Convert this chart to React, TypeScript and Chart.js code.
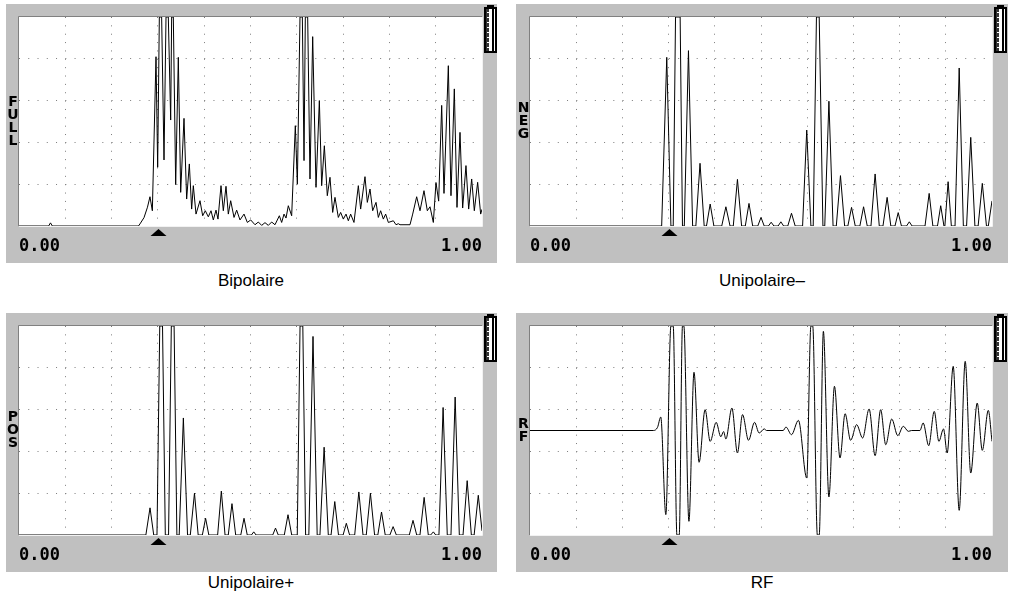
import React, { useEffect, useRef } from 'react';
import { Chart, registerables } from 'chart.js';

Chart.register(...registerables);

// ---------- data (x = fraction of the screen width 0..1, y = % of screen height) ----------
const X_TICK_STEP = 0.1;
const X_END_LABELS = ['0.00', '1.00'];
const GATE_MARKER_X = 0.3;

const fullTrace: [number, number][] = [
  [0, 0], [0.064, 0], [0.068, 1.5], [0.072, 0], [0.258, 0], [0.2613, 1], [0.27, 4], [0.2775, 9],
  [0.2829, 14], [0.288, 7.3], [0.2959, 81], [0.2995, 28.1], [0.3031, 100], [0.3081, 100], [0.3132, 31.6],
  [0.3175, 100], [0.3225, 100], [0.3276, 50.7], [0.3297, 100], [0.3333, 100], [0.3384, 19.8], [0.3441, 80.7],
  [0.3492, 16.1], [0.3564, 51.5], [0.3621, 12.9], [0.3679, 29.7], [0.3729, 8.1], [0.3765, 19.3], [0.3823, 5.7],
  [0.3909, 12.1], [0.3967, 4.9], [0.4024, 7.3], [0.4089, 4.4], [0.4147, 7.3], [0.4197, 2.9], [0.4255, 7.6],
  [0.4298, 3.3], [0.4363, 19.3], [0.4413, 7.3], [0.4471, 19.0], [0.4521, 5.7], [0.4572, 12.1], [0.4644, 4.1],
  [0.4701, 7.6], [0.4773, 2.9], [0.486, 5.7], [0.4932, 1.7], [0.5004, 2.9], [0.5097, 0.6], [0.5169, 1.9],
  [0.5241, 0.3], [0.5313, 1.6], [0.5385, 0.3], [0.5457, 1.9], [0.5529, 0.6], [0.5623, 4.9], [0.5673, 1.7],
  [0.5724, 5.7], [0.5767, 3.8], [0.5817, 9.7], [0.5889, 4.9], [0.5968, 48.0], [0.6012, 20.1], [0.6069, 100],
  [0.612, 100], [0.6156, 31.3], [0.6184, 100], [0.6235, 100], [0.6285, 22.5], [0.6343, 90.6], [0.6415, 18.5],
  [0.6487, 60.0], [0.6537, 19.3], [0.6595, 38.4], [0.6659, 14.5], [0.6717, 23.3], [0.6775, 6.5], [0.6825, 13.7],
  [0.6897, 4.1], [0.6947, 6.5], [0.7005, 3.3], [0.7063, 5.7], [0.7113, 2.5], [0.7163, 5.7], [0.7235, 1.7],
  [0.7329, 19.3], [0.7379, 8.1], [0.7473, 23.6], [0.7523, 11.3], [0.7581, 17.7], [0.7639, 7.3], [0.7711, 11.3],
  [0.7761, 4.1], [0.7811, 7.3], [0.7869, 3.3], [0.7919, 5.7], [0.7977, 1.7], [0.8085, 2.5], [0.8143, 0.6],
  [0.8193, 1.1], [0.8229, 0.6], [0.8445, 0.6], [0.8503, 5.7], [0.8589, 14.0], [0.8661, 7.3], [0.8747, 16.9],
  [0.8819, 7.3], [0.8877, 9.2], [0.8949, 1.7], [0.9006, 20.8], [0.9064, 11.9], [0.9129, 57.7], [0.9179, 15.6],
  [0.9273, 76.7], [0.933, 14.5], [0.9402, 65.6], [0.946, 8.9], [0.9525, 44.8], [0.9582, 8.6], [0.9654, 28.9],
  [0.9712, 8.1], [0.9777, 22.5], [0.9834, 7.3], [0.9906, 20.9], [0.9971, 5.7], [1.0, 8],
];

const negTrace: [number, number][] = [
  [0, 0], [0.285, 0], [0.296, 80.7], [0.305, 0], [0.31, 0], [0.315, 100], [0.325, 100], [0.33, 0], [0.334, 0],
  [0.343, 83.9], [0.352, 0], [0.359, 0], [0.368, 30], [0.377, 0], [0.382, 0], [0.39, 10.5], [0.398, 0],
  [0.415, 0], [0.424, 9.2], [0.433, 0], [0.44, 0], [0.449, 22.3], [0.458, 0], [0.466, 0], [0.474, 10.8],
  [0.482, 0], [0.493, 0], [0.5, 4.1], [0.507, 0], [0.516, 0], [0.522, 1.8], [0.528, 0], [0.537, 0],
  [0.543, 2.0], [0.549, 0], [0.558, 0], [0.566, 6.1], [0.574, 0], [0.59, 0], [0.599, 45.9], [0.608, 0],
  [0.613, 0], [0.62, 100], [0.626, 100], [0.634, 0], [0.638, 0], [0.647, 59.7], [0.656, 0], [0.663, 0],
  [0.672, 24.1], [0.681, 0], [0.688, 0], [0.696, 8.9], [0.704, 0], [0.714, 0], [0.722, 9.2], [0.73, 0],
  [0.738, 0], [0.747, 24.9], [0.756, 0], [0.764, 0], [0.773, 13.7], [0.781, 0], [0.79, 0], [0.797, 6.4],
  [0.804, 0], [0.815, 0], [0.821, 2.0], [0.827, 0], [0.855, 0], [0.864, 15.6], [0.872, 0], [0.882, 0],
  [0.889, 9.7], [0.896, 0], [0.898, 0], [0.905, 21.2], [0.912, 0], [0.92, 0], [0.929, 75.6], [0.938, 0],
  [0.945, 0], [0.954, 42.4], [0.963, 0], [0.97, 0], [0.979, 20.4], [0.988, 0], [0.992, 0], [1.0, 12],
];

const posTrace: [number, number][] = [
  [0, 0], [0.274, 0], [0.283, 13], [0.291, 0], [0.298, 0], [0.304, 100], [0.31, 100], [0.316, 0], [0.323, 0],
  [0.329, 100], [0.335, 100], [0.341, 0], [0.346, 0], [0.355, 56], [0.364, 0], [0.37, 0], [0.379, 20],
  [0.387, 0], [0.396, 0], [0.403, 8], [0.41, 0], [0.429, 0], [0.437, 21], [0.445, 0], [0.452, 0], [0.46, 15],
  [0.468, 0], [0.479, 0], [0.486, 8], [0.493, 0], [0.502, 0], [0.507, 1.5], [0.512, 0], [0.548, 0],
  [0.554, 3.3], [0.56, 0], [0.573, 0], [0.581, 9.7], [0.589, 0], [0.601, 0], [0.607, 100], [0.613, 100],
  [0.619, 0], [0.626, 0], [0.635, 95], [0.644, 0], [0.65, 0], [0.659, 42], [0.668, 0], [0.674, 0], [0.682, 16],
  [0.69, 0], [0.7, 0], [0.707, 5.6], [0.714, 0], [0.725, 0], [0.734, 20.6], [0.743, 0], [0.75, 0], [0.759, 20],
  [0.768, 0], [0.775, 0], [0.783, 11], [0.791, 0], [0.801, 0], [0.808, 4], [0.815, 0], [0.843, 0], [0.851, 7],
  [0.859, 0], [0.866, 0], [0.875, 18], [0.884, 0], [0.889, 0], [0.895, 1.5], [0.9, 0], [0.907, 0], [0.916, 61],
  [0.925, 0], [0.933, 0], [0.942, 66], [0.951, 0], [0.959, 0], [0.968, 26], [0.977, 0], [0.983, 0],
  [0.992, 19], [1.0, 2],
];

const rfTrace: [number, number][] = [
  [0, 0], [0.267, 0], [0.276, 3], [0.283, 12.9], [0.294, -80.5], [0.305, 100], [0.31, 100], [0.318, -100],
  [0.323, -100], [0.33, 100], [0.333, 100], [0.344, -86.9], [0.355, 55.7], [0.366, -30.4], [0.379, 19.9],
  [0.39, -10.4], [0.403, 7.8], [0.413, -6], [0.419, -1], [0.424, -8.1], [0.437, 21.5], [0.449, -21.5],
  [0.46, 15.2], [0.473, -9.4], [0.486, 7.8], [0.496, -2.4], [0.507, 1.5], [0.512, 0], [0.548, 0], [0.554, 3.3],
  [0.566, -4.0], [0.581, 9.7], [0.599, -45.5], [0.608, 100], [0.612, 100], [0.622, -100], [0.626, -100],
  [0.635, 94.9], [0.647, -63.6], [0.659, 42.3], [0.671, -26.3], [0.682, 16.1], [0.694, -9.4], [0.707, 5.6],
  [0.72, -7.2], [0.734, 20.6], [0.747, -24.1], [0.759, 19.9], [0.77, -13.6], [0.783, 11.0], [0.796, -4.9],
  [0.808, 4.0], [0.819, -0.8], [0.826, 0], [0.844, 0], [0.851, 7.2], [0.863, -14.5], [0.875, 18.3],
  [0.885, -10.4], [0.895, 1.5], [0.903, -21.5], [0.916, 61.4], [0.929, -76.4], [0.942, 66.2], [0.954, -40.7],
  [0.968, 26.3], [0.979, -19.0], [0.992, 19.3], [1.0, -10.4],
];

const CAPTIONS = ['Bipolaire', 'Unipolaire\u2013', 'Unipolaire+', 'RF'];
const SIDE_LABELS = ['FULL', 'NEG', 'POS', 'RF'];

// ---------- styling ----------
const GRAY = '#c0c0c0';
const DOT = '#7c7c7c';

const framePlugin = {
  id: 'scopeFrame',
  beforeDraw(chart: any) {
    const { ctx, chartArea: a, width, height } = chart;
    ctx.save();
    ctx.fillStyle = GRAY;
    ctx.fillRect(0, 0, width, height);
    ctx.fillStyle = '#ffffff';
    ctx.fillRect(a.left, a.top, a.right - a.left, a.bottom - a.top);
    ctx.restore();
  },
  afterDraw(chart: any, _args: any, opts: any) {
    const { ctx, chartArea: a } = chart;
    ctx.save();
    ctx.lineWidth = 1;
    ctx.strokeStyle = '#808080';
    ctx.beginPath();
    ctx.moveTo(a.left - 0.5, a.bottom);
    ctx.lineTo(a.left - 0.5, a.top - 0.5);
    ctx.lineTo(a.right, a.top - 0.5);
    ctx.stroke();
    ctx.strokeStyle = '#f2f2f2';
    ctx.beginPath();
    ctx.moveTo(a.left, a.bottom + 0.5);
    ctx.lineTo(a.right + 0.5, a.bottom + 0.5);
    ctx.lineTo(a.right + 0.5, a.top);
    ctx.stroke();

    // gate marker
    const mx = Math.round(chart.scales.x.getPixelForValue(opts.marker)) + 0.5;
    ctx.fillStyle = '#000';
    ctx.beginPath();
    ctx.moveTo(mx, a.bottom + 3);
    ctx.lineTo(mx + 8, a.bottom + 10);
    ctx.lineTo(mx - 8, a.bottom + 10);
    ctx.closePath();
    ctx.fill();

    // gain gauge
    const bx = Math.round(a.right) + 2;
    const by = 1;
    ctx.fillStyle = '#000';
    ctx.fillRect(bx + 3, by, 7, 3);
    ctx.fillRect(bx, by + 2, 13, 46);
    ctx.fillStyle = '#fff';
    ctx.fillRect(bx + 2, by + 4, 9, 42);
    ctx.fillStyle = '#000';
    ctx.fillRect(bx + 8, by + 4, 2, 42);
    ctx.fillStyle = '#333';
    ctx.fillRect(bx + 2, by + 4, 3, 42);
    ctx.fillStyle = '#fff';
    for (let i = 0; i < 8; i++) ctx.fillRect(bx + 3, by + 7 + i * 5, 2, 1);

    // side label
    const letters: string = opts.letters;
    ctx.fillStyle = '#000';
    ctx.font = 'bold 14px "DejaVu Sans", sans-serif';
    ctx.textAlign = 'center';
    ctx.textBaseline = 'middle';
    const pitch = 13;
    const cy = (a.top + a.bottom) / 2;
    for (let i = 0; i < letters.length; i++) {
      ctx.fillText(letters[i], a.left / 2 + 0.5, cy + (i - (letters.length - 1) / 2) * pitch);
    }
    ctx.restore();
  },
};

type PanelProps = {
  left: number;
  top: number;
  width: number;
  height: number;
  padLeft: number;
  padRight: number;
  trace: [number, number][];
  yMin: number;
  yMax: number;
  yStep: number;
  smooth: boolean;
  letters: string;
};

function ScopePanel(p: PanelProps) {
  const ref = useRef<HTMLCanvasElement>(null);
  useEffect(() => {
    if (!ref.current) return;
    const isEdge = (v: number, lo: number, hi: number) => Math.abs(v - lo) < 1e-6 || Math.abs(v - hi) < 1e-6;
    const chart = new Chart(ref.current, {
      type: 'line',
      data: {
        datasets: [
          {
            data: p.trace.map(([x, y]) => ({ x, y })),
            borderColor: '#000',
            borderWidth: 1,
            pointRadius: 0,
            fill: false,
            tension: 0,
            cubicInterpolationMode: p.smooth ? 'monotone' : 'default',
          } as any,
        ],
      },
      options: {
        animation: false,
        responsive: false,
        maintainAspectRatio: false,
        devicePixelRatio: 1,
        events: [],
        layout: { padding: { left: p.padLeft, top: 13, right: p.padRight, bottom: 0 } },
        plugins: {
          legend: { display: false },
          tooltip: { enabled: false },
          scopeFrame: { marker: GATE_MARKER_X, letters: p.letters },
        } as any,
        scales: {
          x: {
            type: 'linear',
            min: 0,
            max: 1,
            afterFit: (s: any) => {
              s.height = 37;
            },
            ticks: {
              stepSize: X_TICK_STEP,
              autoSkip: false,
              maxRotation: 0,
              align: 'inner',
              padding: 10,
              color: '#000',
              font: { family: '"DejaVu Sans Mono", monospace', size: 17, weight: 'bold' },
              callback: (v: any) =>
                Math.abs(v - 0) < 1e-6 ? X_END_LABELS[0] : Math.abs(v - 1) < 1e-6 ? X_END_LABELS[1] : '',
            },
            grid: {
              drawTicks: false,
              lineWidth: 1,
              color: (c: any) => (c.tick && isEdge(c.tick.value, 0, 1) ? 'rgba(0,0,0,0)' : DOT),
            },
            border: { display: false, dash: [1, 7.36] },
          },
          y: {
            type: 'linear',
            min: p.yMin,
            max: p.yMax,
            afterFit: (s: any) => {
              s.width = 0;
            },
            ticks: { display: false, stepSize: p.yStep },
            grid: {
              drawTicks: false,
              lineWidth: 1,
              color: (c: any) => (c.tick && isEdge(c.tick.value, p.yMin, p.yMax) ? 'rgba(0,0,0,0)' : DOT),
            },
            border: { display: false, dash: [1, 8.26] },
          },
        } as any,
      },
      plugins: [framePlugin as any],
    });
    return () => chart.destroy();
  }, []);
  return (
    <canvas
      ref={ref}
      width={p.width}
      height={p.height}
      style={{ position: 'absolute', left: p.left, top: p.top, width: p.width, height: p.height }}
    />
  );
}

const captionStyle = (cx: number, top: number): React.CSSProperties => ({
  position: 'absolute',
  left: cx - 150,
  top,
  width: 300,
  textAlign: 'center',
  font: '17px "Liberation Sans", Arial, sans-serif',
  lineHeight: '17px',
  color: '#000',
});

export default function App() {
  return (
    <div style={{ position: 'absolute', left: 0, top: 0, width: 1009, height: 600, background: '#fff', overflow: 'hidden' }}>
      <ScopePanel left={6} top={4} width={491} height={259} padLeft={13} padRight={15} trace={fullTrace}
        yMin={0} yMax={100} yStep={20} smooth={false} letters={SIDE_LABELS[0]} />
      <ScopePanel left={516} top={4} width={492} height={259} padLeft={14} padRight={16} trace={negTrace}
        yMin={0} yMax={100} yStep={20} smooth={false} letters={SIDE_LABELS[1]} />
      <ScopePanel left={6} top={313} width={491} height={259} padLeft={13} padRight={15} trace={posTrace}
        yMin={0} yMax={100} yStep={20} smooth={false} letters={SIDE_LABELS[2]} />
      <ScopePanel left={516} top={313} width={492} height={259} padLeft={14} padRight={16} trace={rfTrace}
        yMin={-100} yMax={100} yStep={40} smooth={true} letters={SIDE_LABELS[3]} />
      <div style={captionStyle(251, 272)}>{CAPTIONS[0]}</div>
      <div style={captionStyle(762, 272)}>{CAPTIONS[1]}</div>
      <div style={captionStyle(251, 574)}>{CAPTIONS[2]}</div>
      <div style={captionStyle(762, 574)}>{CAPTIONS[3]}</div>
    </div>
  );
}
